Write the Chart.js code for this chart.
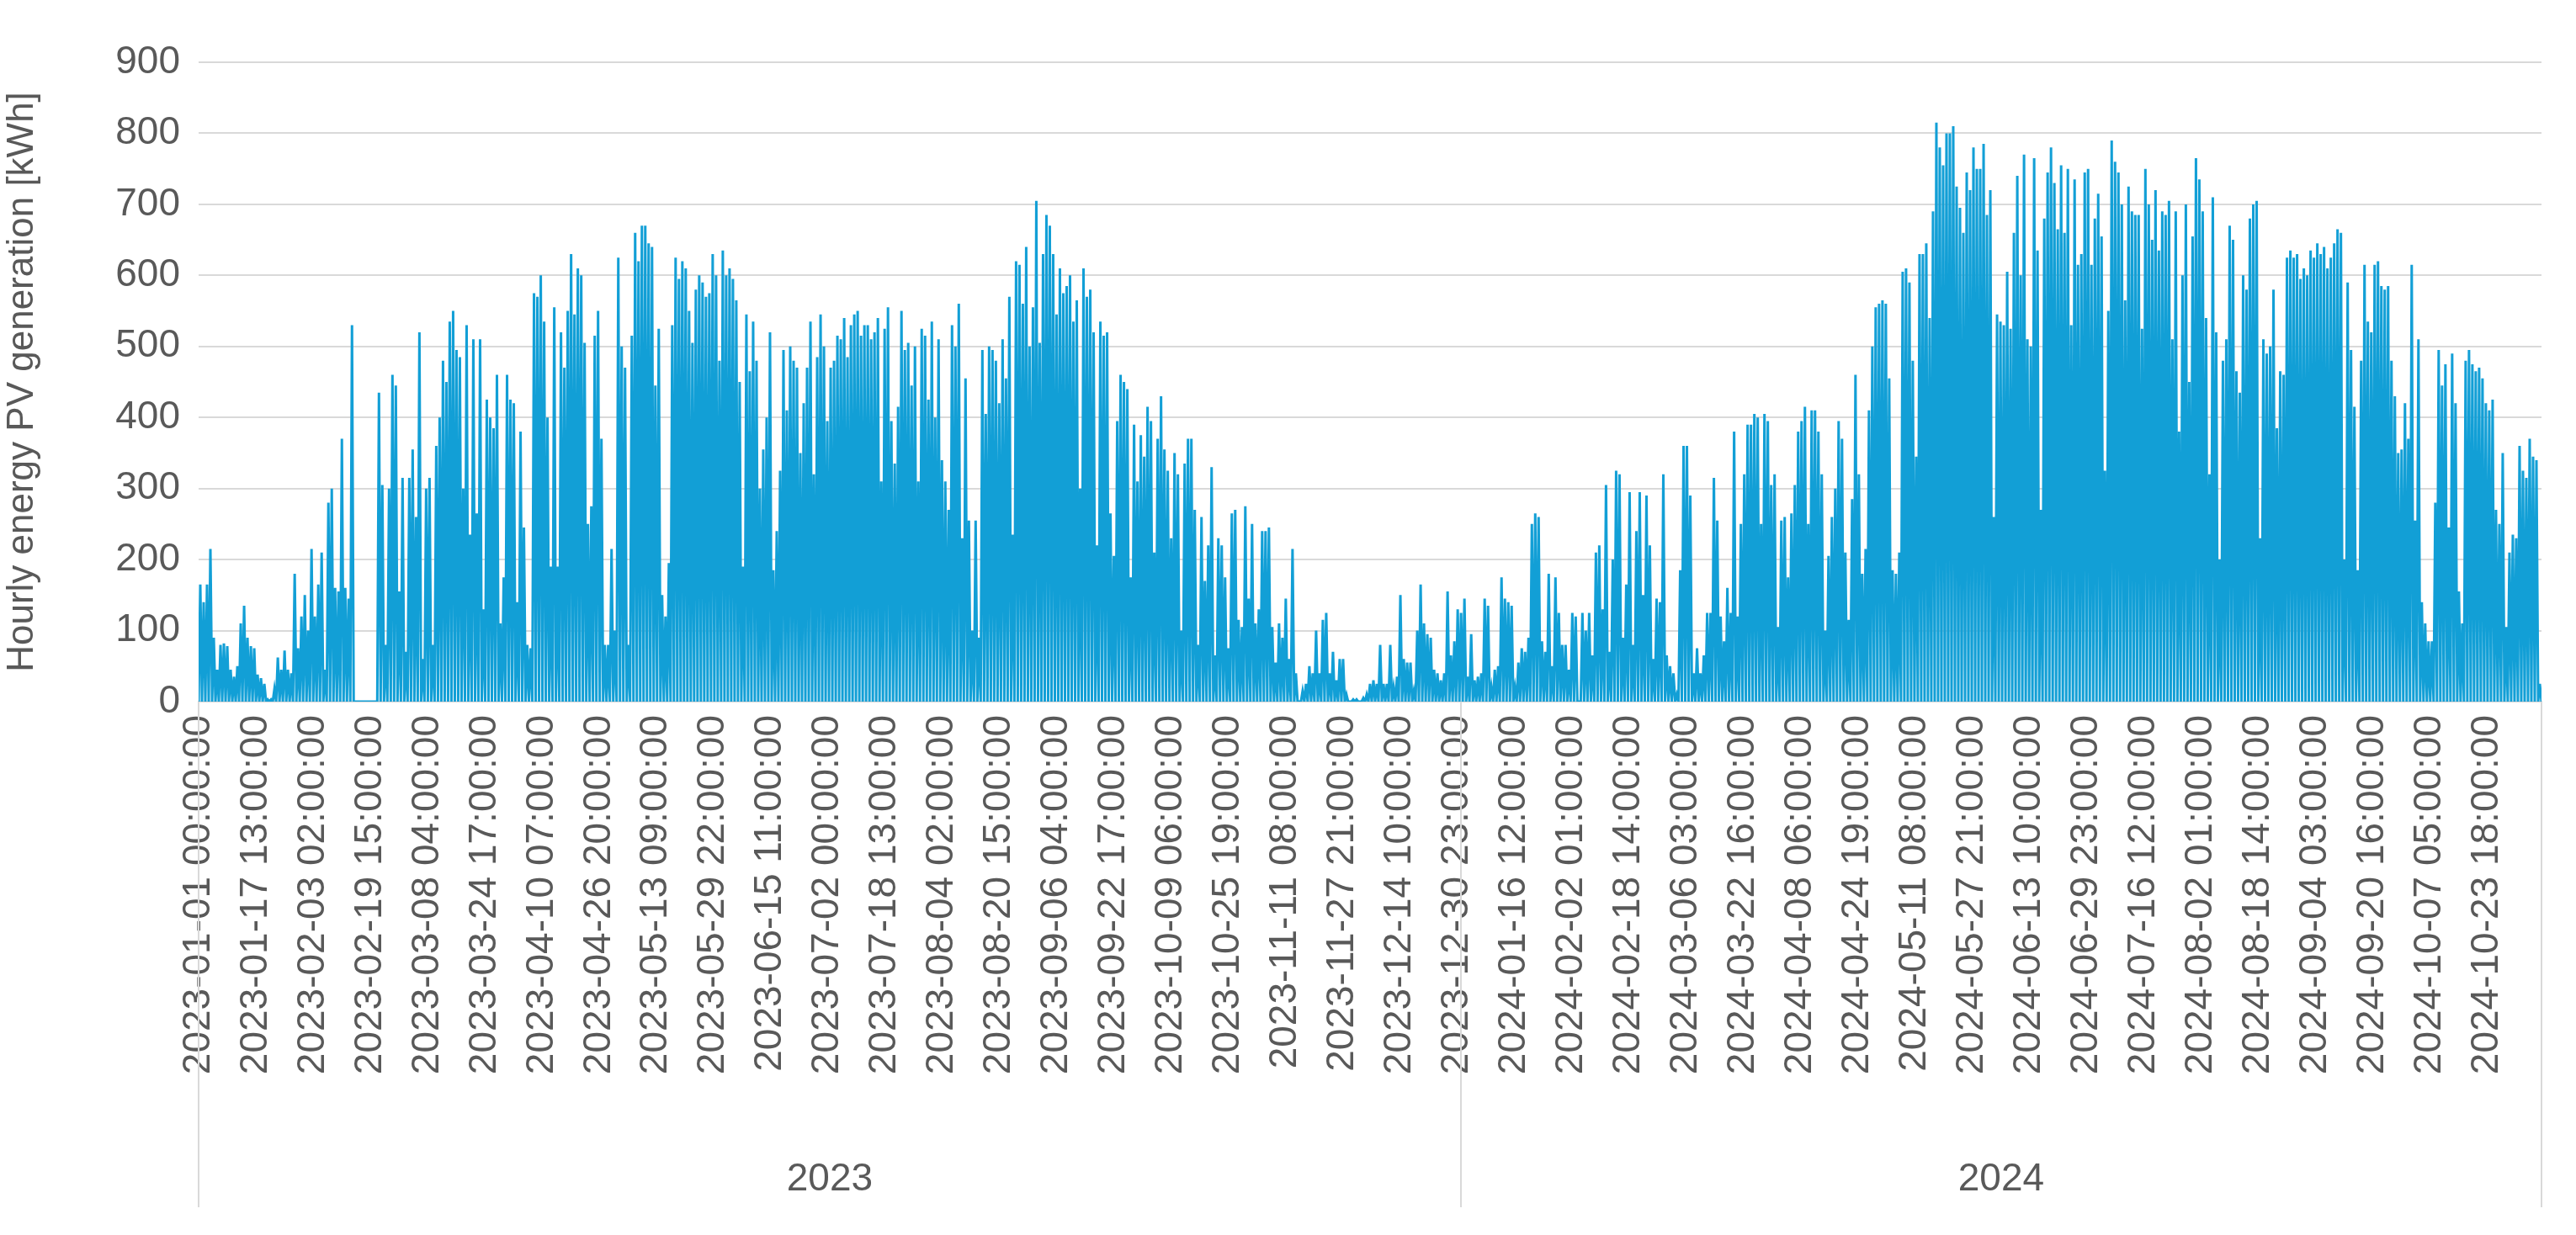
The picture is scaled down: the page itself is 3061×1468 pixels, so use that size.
<!DOCTYPE html>
<html><head><meta charset="utf-8">
<script src="https://cdn.jsdelivr.net/npm/chart.js@4/dist/chart.umd.min.js"></script>
<style>html,body{margin:0;padding:0;background:#fff}canvas{display:block}</style>
</head><body>
<canvas id="c" width="3061" height="1468"></canvas>
<script>
// Daily peak of hourly PV generation [kWh] (2023-01-01 … 2024-11)
const peaks2023a = [165,140,165,215,90,45,80,82,78,45,35,50,110,135,90,78,75,38,33,25,3,3,18,62,45,72,45,40,180,75,120,150,100,215,120,165,210,45,280,300,160,155,370,160,145,530,0,0,0,0,0,0,0,435,305,80,300,460,445,155,315,70,315,355,260,520,60,300,315,80,360,400,480,450,535,550,495,485,300,530,235,510,265,510,130,425,400,385,460,110,175,460,425,420,140,380];
const peaks2023b = [245,80,75,575,570,600,535,400,190,555,190,520,470,550,630,545,610,600,505,250,275,515,550,370,80,80,215,100,625,500,470,80,515,660,620,670,670,645,640,445,525,150,120,195,530,625,595,620,610,550,505,580,600,590,570,575,630,600,480,635,600,610,595,565,450,190,545,465,535,480,300,355,400,520,185,240,325,495,410,500,480,470,350,420,470,535,320,485,545,500,395,470,480,515,510,540,485,530,545,550,515,530];
const peaks2023c = [530,510,520,540,310,525,555,395,335,415,550,495,505,445,500,310,525,515,425,535,400,510,340,310,270,530,500,560,230,455,255,100,255,90,495,405,500,495,480,420,510,455,570,235,620,615,560,640,500,555,705,505,630,685,670,630,545,610,575,585,600,535,565,300,610,570,580,520,220,535,515,520,265,205,395,460,450,440,175,390,310,375,345,415,395,210,370,430,355,325,230,350,320,100,335,370];
const peaks2023d = [370,270,80,260,170,220,330,65,230,220,175,75,265,270,115,105,275,145,250,110,130,240,240,245,105,55,110,90,145,60,215,40,0,15,25,50,40,100,40,115,125,40,70,30,60,60,10,0,3,3,0,5,10,25,30,25,80,25,25,80,20,35,150,60,55,55,15,100,165,110,95,90,45,40,30,40,155,65,85,130,125,145,35,95,30,35,40,145,135,20,45,50,175,145,140];
const peaks2024a = [135,20,55,75,70,90,250,265,260,85,70,180,50,175,125,80,80,45,125,120,0,125,100,125,65,210,220,130,305,70,200,325,320,90,165,295,80,240,295,150,290,220,60,145,140,320,65,50,40,10,185,360,360,290,40,75,40,65,125,125,315,255,120,85,160,125,380,120,250,320,390,390,405,400,250,405,395,305,320,105,255,260,175,265,305,380,395,415,250,410,410,380,320,100,205,260,300,395,370,210,115,285,460,320,180,215,410,500,555,560,565];
const peaks2024b = [560,455,185,180,210,605,610,590,480,345,630,630,645,540,690,815,780,755,800,800,810,725,695,660,745,720,780,750,750,785,685,720,260,545,535,530,605,525,660,740,600,770,510,500,765,635,270,680,745,780,730,665,755,660,750,530,735,615,630,745,750,615,680,715,655,325,550,790,760,745,700,565,725,690,685,685,525,750,700,650,720,635,690,685,705,510,690,380,600,700,450,655,765,735,690,540,320,710,520];
const peaks2024c = [200,480,510,670,650,465,435,600,580,680,700,705,230,510,490,500,580,385,465,460,625,635,625,630,595,610,600,635,625,645,630,640,610,625,645,665,660,200,590,495,415,185,480,615,535,520,615,620,585,580,585,480,430,350,355,420,370,615,255,510,140,110,85,85,280,495,445,475,245,490,420,155,110,480,495,475,465,470,455,420,410,425,270,250,350,105,210,235,230,360,325,315,370,345,340,25];

const tickLabels = ["2023-01-01 00:00:00","2023-01-17 13:00:00","2023-02-03 02:00:00","2023-02-19 15:00:00","2023-03-08 04:00:00","2023-03-24 17:00:00","2023-04-10 07:00:00","2023-04-26 20:00:00","2023-05-13 09:00:00","2023-05-29 22:00:00","2023-06-15 11:00:00","2023-07-02 00:00:00","2023-07-18 13:00:00","2023-08-04 02:00:00","2023-08-20 15:00:00","2023-09-06 04:00:00","2023-09-22 17:00:00","2023-10-09 06:00:00","2023-10-25 19:00:00","2023-11-11 08:00:00","2023-11-27 21:00:00","2023-12-14 10:00:00","2023-12-30 23:00:00","2024-01-16 12:00:00","2024-02-02 01:00:00","2024-02-18 14:00:00","2024-03-06 03:00:00","2024-03-22 16:00:00","2024-04-08 06:00:00","2024-04-24 19:00:00","2024-05-11 08:00:00","2024-05-27 21:00:00","2024-06-13 10:00:00","2024-06-29 23:00:00","2024-07-16 12:00:00","2024-08-02 01:00:00","2024-08-18 14:00:00","2024-09-04 03:00:00","2024-09-20 16:00:00","2024-10-07 05:00:00","2024-10-23 18:00:00"];
const yearLabels = ["2023","2024"];
const yearStartHours = [0, 8760];
const totalHours = 16260;
const tickStepHours = 397;

const peaks = [].concat(peaks2023a,peaks2023b,peaks2023c,peaks2023d,peaks2024a,peaks2024b,peaks2024c);
const step = totalHours / peaks.length;
const pts = [];
peaks.forEach((p,i)=>{ pts.push({x:i*step,y:0}); pts.push({x:i*step+step/2,y:p}); });
pts.push({x:totalHours,y:0});

const grey = '#595959', grid = '#d9d9d9', FF = '"Liberation Sans", Arial, sans-serif';

const yearPlugin = {
  id:'years',
  afterDraw(chart){
    const {ctx, chartArea:a, scales:{x}} = chart;
    ctx.save();
    ctx.strokeStyle = grid; ctx.lineWidth = 2;
    const bounds = yearStartHours.concat([totalHours]);
    bounds.forEach(h=>{ const px = Math.round(x.getPixelForValue(h)); ctx.beginPath(); ctx.moveTo(px,a.bottom); ctx.lineTo(px,1435); ctx.stroke(); });
    ctx.fillStyle = grey; ctx.font = '46px '+FF; ctx.textAlign='center'; ctx.textBaseline='middle';
    yearLabels.forEach((t,i)=>{ const c=(x.getPixelForValue(bounds[i])+x.getPixelForValue(bounds[i+1]))/2; ctx.fillText(t,c,1402); });
    ctx.restore();
  }
};

new Chart(document.getElementById('c'), {
  type:'line',
  data:{datasets:[{data:pts, borderColor:'#129fd6', backgroundColor:'#129fd6', borderWidth:3, pointRadius:0, tension:0, fill:false}]},
  options:{
    responsive:false, animation:false, devicePixelRatio:1,
    layout:{padding:{left:0,top:74,right:41,bottom:0}},
    plugins:{legend:{display:false}, tooltip:{enabled:false}},
    scales:{
      x:{type:'linear', min:0, max:totalHours,
        afterBuildTicks(s){ s.ticks = tickLabels.map((_,i)=>({value:i*tickStepHours})); },
        afterFit(s){ s.height = 1468-834; },
        grid:{display:false}, border:{display:true,color:grid,width:2},
        ticks:{autoSkip:false, maxRotation:90, minRotation:90, padding:8, color:grey, font:{size:46,family:FF},
          callback(v,i){ return tickLabels[i]; }}
      },
      y:{min:0,max:900,
        afterFit(s){ s.width = 236; },
        grid:{color:grid,lineWidth:2,drawTicks:false}, border:{display:false},
        ticks:{stepSize:100, padding:22, color:grey, font:{size:46,family:FF}},
        title:{display:true,text:'Hourly energy PV generation [kWh]',color:grey,font:{size:44,family:FF},padding:{top:0,bottom:6}}
      }
    }
  },
  plugins:[yearPlugin]
});
</script>
</body></html>
